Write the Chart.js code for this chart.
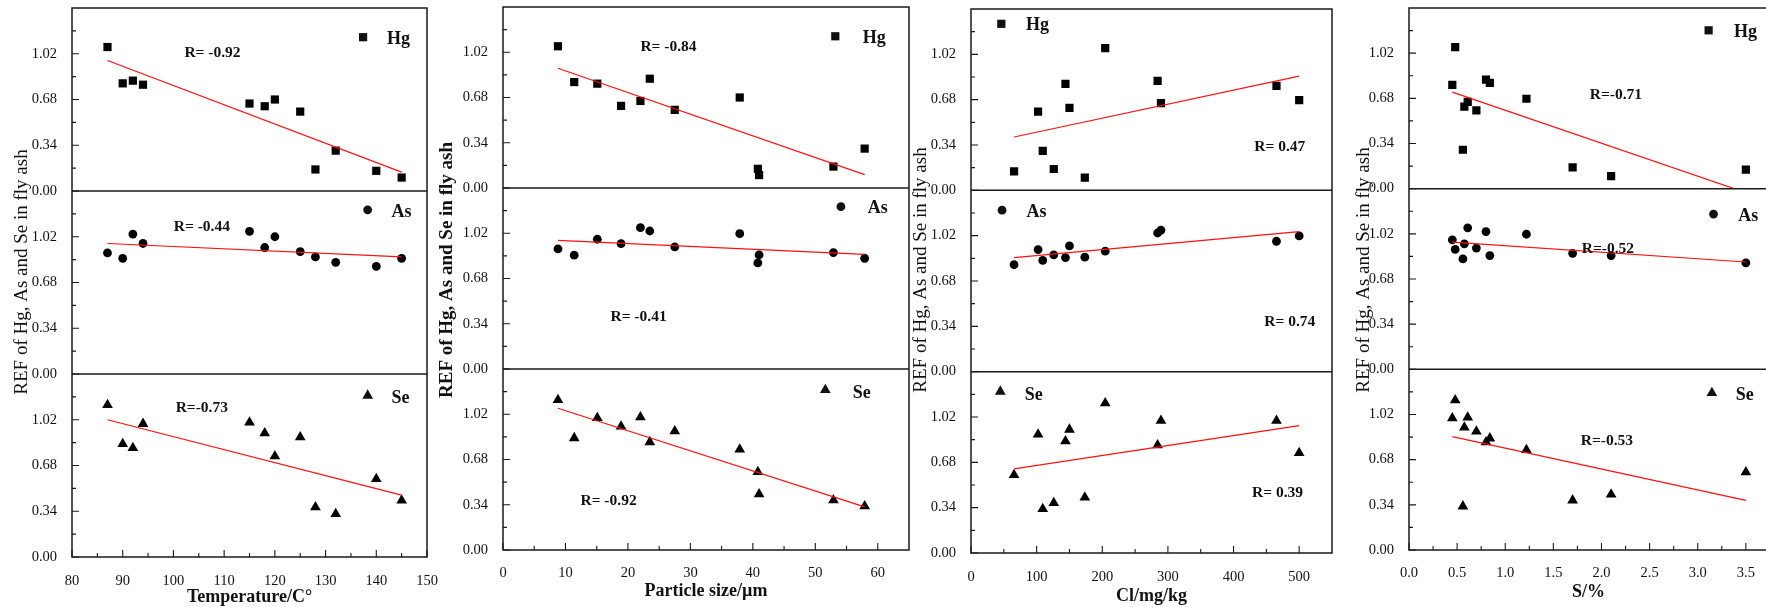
<!DOCTYPE html>
<html>
<head>
<meta charset="utf-8">
<script src="https://cdn.jsdelivr.net/npm/chart.js@4.4.1/dist/chart.umd.min.js"></script>
<style>
  html, body { margin: 0; padding: 0; background: #fff; width: 1766px; height: 607px; overflow: hidden; position: relative; }
  canvas { position: absolute; top: 0; }
</style>
</head>
<body>
<canvas id="p1"></canvas>
<canvas id="p2"></canvas>
<canvas id="p3"></canvas>
<canvas id="p4"></canvas>
<script>
// REF of Hg / As / Se in fly ash against temperature, particle size, Cl and S

// shared y ticks of every sub-plot
const Y_TICKS = [0, 0.34, 0.68, 1.02];
const Y_MINOR = [0.17, 0.51, 0.85, 1.19];

// temperature panel
const TEMP_TICKS = [80, 90, 100, 110, 120, 130, 140, 150];
const TEMP_X = [87, 90, 92, 94, 115, 118, 120, 125, 128, 132, 140, 145];
const TEMP_HG = [1.07, 0.80, 0.82, 0.79, 0.65, 0.63, 0.68, 0.59, 0.16, 0.30, 0.15, 0.10];
const TEMP_AS = [0.90, 0.86, 1.04, 0.97, 1.06, 0.94, 1.02, 0.91, 0.87, 0.83, 0.80, 0.86];
const TEMP_SE = [1.13, 0.84, 0.81, 0.99, 1.00, 0.92, 0.75, 0.89, 0.37, 0.32, 0.58, 0.42];
const TEMP_FIT_X = [87, 145];
const TEMP_FIT_HG = [0.97, 0.14];
const TEMP_FIT_AS = [0.97, 0.87];
const TEMP_FIT_SE = [1.02, 0.46];

// particle size panel
const SIZE_TICKS = [0, 10, 20, 30, 40, 50, 60];
const SIZE_X = [8.8, 11.4, 15.1, 18.9, 22.0, 23.5, 27.5, 37.9, 40.8, 41.0, 52.9, 57.9];
const SIZE_HG = [1.065, 0.796, 0.784, 0.617, 0.654, 0.821, 0.587, 0.680, 0.144, 0.097, 0.161, 0.296];
const SIZE_AS = [0.902, 0.855, 0.975, 0.942, 1.062, 1.037, 0.917, 1.017, 0.797, 0.857, 0.875, 0.832];
const SIZE_SE = [1.128, 0.841, 0.993, 0.928, 0.998, 0.811, 0.893, 0.756, 0.586, 0.419, 0.374, 0.329];
const SIZE_FIT_X = [8.8, 57.9];
const SIZE_FIT_HG = [0.90, 0.10];
const SIZE_FIT_AS = [0.967, 0.862];
const SIZE_FIT_SE = [1.065, 0.324];

// chlorine panel
const CL_TICKS = [0, 100, 200, 300, 400, 500];
const CL_X = [65.6, 102.2, 109.3, 126.1, 143.9, 150, 173.4, 204.5, 284.3, 289.4, 465.4, 500];
const CL_HG = [0.142, 0.590, 0.296, 0.160, 0.799, 0.619, 0.095, 1.067, 0.821, 0.654, 0.784, 0.677];
const CL_AS = [0.802, 0.916, 0.834, 0.876, 0.856, 0.943, 0.859, 0.904, 1.040, 1.062, 0.978, 1.018];
const CL_SE = [0.586, 0.889, 0.331, 0.375, 0.839, 0.926, 0.417, 1.124, 0.809, 0.993, 0.993, 0.750];
const CL_FIT_X = [65.6, 500];
const CL_FIT_HG = [0.40, 0.856];
const CL_FIT_AS = [0.856, 1.05];
const CL_FIT_SE = [0.631, 0.956];

// sulfur panel
const S_TICKS = [0, 0.5, 1.0, 1.5, 2.0, 2.5, 3.0, 3.5];
const S_X = [0.45, 0.48, 0.56, 0.575, 0.61, 0.70, 0.80, 0.84, 1.22, 1.70, 2.10, 3.50];
const S_HG = [0.781, 1.065, 0.293, 0.617, 0.654, 0.590, 0.821, 0.796, 0.677, 0.161, 0.094, 0.144];
const S_AS = [0.975, 0.903, 0.831, 0.945, 1.065, 0.913, 1.037, 0.856, 1.017, 0.873, 0.856, 0.801];
const S_SE = [0.993, 1.128, 0.329, 0.923, 0.998, 0.893, 0.811, 0.841, 0.754, 0.374, 0.419, 0.586];
const S_FIT_X = [0.45, 3.5];
const S_FIT_HG = [0.727, -0.03];
const S_FIT_AS = [0.958, 0.808];
const S_FIT_SE = [0.853, 0.374];

const FONT = "'Liberation Serif', 'Times New Roman', serif";
const INK = "#111";
const RED = "#ff1010";
const AXIS_W = 72;
const PAD_R = 24;
const CANVAS_H = 620;
const Y_TITLE = "REF of Hg, As and Se in fly ash";

const PANELS = [
  {
    id: "p1", left: 72, right: 427, top: 8, bottom: 557,
    xMin: 80, xMax: 150, xTicks: TEMP_TICKS, digits: 0, xTitle: "Temperature/C°", xTitlePad: 12, xTickPad: 7,
    yTitleX: 22, yTitleY: 272, yBold: false,
    x: TEMP_X, hg: TEMP_HG, as: TEMP_AS, se: TEMP_SE,
    fitX: TEMP_FIT_X, fitHg: TEMP_FIT_HG, fitAs: TEMP_FIT_AS, fitSe: TEMP_FIT_SE,
    notes: [["yHg", 107.7, 1.025, "R= -0.92"], ["yAs", 105.6, 1.089, "R= -0.44"], ["ySe", 105.6, 1.106, "R=-0.73"]],
    keys: [["yHg", 137.4, 1.143, 142.1, 1.138], ["yAs", 138.3, 1.22, 143.0, 1.207], ["ySe", 138.3, 1.2, 143.0, 1.183]],
  },
  {
    id: "p2", left: 503, right: 909, top: 7, bottom: 550,
    xMin: 0, xMax: 65, xTicks: SIZE_TICKS, digits: 0, xTitle: "Particle size/µm", xTitlePad: 18, xTickPad: 6,
    yTitleX: 447, yTitleY: 270, yBold: true,
    x: SIZE_X, hg: SIZE_HG, as: SIZE_AS, se: SIZE_SE,
    fitX: SIZE_FIT_X, fitHg: SIZE_FIT_HG, fitAs: SIZE_FIT_AS, fitSe: SIZE_FIT_SE,
    notes: [["yHg", 26.5, 1.057, "R= -0.84"], ["yAs", 21.7, 0.387, "R= -0.41"], ["ySe", 16.9, 0.369, "R= -0.92"]],
    keys: [["yHg", 53.2, 1.14, 57.6, 1.132], ["yAs", 54.1, 1.22, 58.4, 1.212], ["ySe", 51.6, 1.203, 56.0, 1.185]],
  },
  {
    id: "p3", left: 971, right: 1332, top: 9, bottom: 553,
    xMin: 0, xMax: 550, xTicks: CL_TICKS, digits: 0, xTitle: "Cl/mg/kg", xTitlePad: 13, xTickPad: 7,
    yTitleX: 921, yTitleY: 270, yBold: false,
    x: CL_X, hg: CL_HG, as: CL_AS, se: CL_SE,
    fitX: CL_FIT_X, fitHg: CL_FIT_HG, fitAs: CL_FIT_AS, fitSe: CL_FIT_SE,
    notes: [["yHg", 470.5, 0.324, "R= 0.47"], ["yAs", 485.7, 0.372, "R= 0.74"], ["ySe", 467, 0.447, "R= 0.39"]],
    keys: [["yHg", 46.2, 1.249, 83.9, 1.244], ["yAs", 47.3, 1.211, 84.4, 1.204], ["ySe", 44.7, 1.211, 81.8, 1.191]],
  },
  {
    id: "p4", left: 1409, right: 1768, top: 8, bottom: 550,
    xMin: 0, xMax: 3.73, xTicks: S_TICKS, digits: 1, xTitle: "S/%", xTitlePad: 17, xTickPad: 6,
    yTitleX: 1364, yTitleY: 270, yBold: false,
    x: S_X, hg: S_HG, as: S_AS, se: S_SE,
    fitX: S_FIT_X, fitHg: S_FIT_HG, fitAs: S_FIT_AS, fitSe: S_FIT_SE,
    notes: [["yHg", 2.15, 0.704, "R=-0.71"], ["yAs", 2.067, 0.908, "R=-0.52"], ["ySe", 2.056, 0.818, "R=-0.53"]],
    keys: [["yHg", 3.113, 1.192, 3.378, 1.187], ["yAs", 3.164, 1.169, 3.42, 1.157], ["ySe", 3.147, 1.183, 3.396, 1.173]],
  },
];

const STYLE = { yHg: ["rect", 5.8], yAs: ["circle", 4.4], ySe: ["triangle", 6.2] };
const LABEL = { yHg: "Hg", yAs: "As", ySe: "Se" };

function marker(ctx, style, r, x, y) {
  ctx.beginPath();
  if (style === "rect") {
    const s = r * Math.SQRT1_2;
    ctx.rect(x - s, y - s, 2 * s, 2 * s);
  } else if (style === "circle") {
    ctx.arc(x, y, r, 0, Math.PI * 2);
  } else {
    ctx.moveTo(x, y - r);
    ctx.lineTo(x + r * Math.sin(2 * Math.PI / 3), y + r / 2);
    ctx.lineTo(x - r * Math.sin(2 * Math.PI / 3), y + r / 2);
    ctx.closePath();
  }
  ctx.fill();
}

function framePlugin(p) {
  return {
    id: "frame" + p.id,
    afterDatasetsDraw(chart) {
      const { ctx, chartArea: a, scales } = chart;
      const xs = scales.x;
      ctx.save();
      ctx.strokeStyle = "#1a1a1a";
      ctx.lineWidth = 1.5;
      ctx.strokeRect(a.left, a.top, a.right - a.left, a.bottom - a.top);
      ctx.beginPath();
      ["yAs", "ySe"].forEach((id) => {
        const y = scales[id].top;
        ctx.moveTo(a.left, y);
        ctx.lineTo(a.right, y);
      });
      ctx.stroke();

      // inward ticks
      ctx.lineWidth = 1.1;
      ctx.beginPath();
      ["yHg", "yAs", "ySe"].forEach((id) => {
        const s = scales[id];
        Y_TICKS.forEach((v) => { const y = s.getPixelForValue(v); ctx.moveTo(a.left, y); ctx.lineTo(a.left + 7, y); });
        Y_MINOR.forEach((v) => { const y = s.getPixelForValue(v); ctx.moveTo(a.left, y); ctx.lineTo(a.left + 4, y); });
      });
      const t = p.xTicks;
      const step = t[1] - t[0];
      t.forEach((v) => {
        const x = xs.getPixelForValue(v);
        ctx.moveTo(x, a.bottom); ctx.lineTo(x, a.bottom - 7);
        const m = v + step / 2;
        if (m < p.xMax) {
          const xm = xs.getPixelForValue(m);
          ctx.moveTo(xm, a.bottom); ctx.lineTo(xm, a.bottom - 4);
        }
      });
      ctx.stroke();

      // R values
      ctx.fillStyle = INK;
      ctx.font = "bold 15.5px " + FONT;
      ctx.textAlign = "center";
      ctx.textBaseline = "middle";
      p.notes.forEach(([id, x, y, text]) => {
        ctx.fillText(text, xs.getPixelForValue(x), scales[id].getPixelForValue(y));
      });

      // element keys
      ctx.font = "bold 18px " + FONT;
      ctx.textAlign = "left";
      p.keys.forEach(([id, mx, my, tx, ty]) => {
        const [style, r] = STYLE[id];
        marker(ctx, style, r, xs.getPixelForValue(mx), scales[id].getPixelForValue(my));
        ctx.fillText(LABEL[id], xs.getPixelForValue(tx), scales[id].getPixelForValue(ty) + 1);
      });

      // shared y title
      const ox = p.left - AXIS_W;
      ctx.translate(p.yTitleX - ox, p.yTitleY);
      ctx.rotate(-Math.PI / 2);
      ctx.textAlign = "center";
      ctx.font = (p.yBold ? "bold " : "") + "19px " + FONT;
      ctx.fillText(Y_TITLE, 0, 0);
      ctx.restore();
    },
  };
}

function makePanel(p) {
  const cv = document.getElementById(p.id);
  const W = (p.right - p.left) + AXIS_W + PAD_R;
  cv.width = W;
  cv.height = CANVAS_H;
  cv.style.left = (p.left - AXIS_W) + "px";
  cv.style.width = W + "px";
  cv.style.height = CANVAS_H + "px";

  const pts = (xs, ys) => xs.map((x, i) => ({ x, y: ys[i] }));
  const scatter = (ys, id) => ({
    data: pts(p.x, ys),
    yAxisID: id,
    pointStyle: STYLE[id][0],
    pointRadius: STYLE[id][1],
    pointBackgroundColor: "#000",
    pointBorderWidth: 0,
    showLine: false,
  });
  const fit = (ys, id) => ({
    data: pts(p.fitX, ys),
    yAxisID: id,
    showLine: true,
    borderColor: RED,
    borderWidth: 1.2,
    pointRadius: 0,
  });
  const tickFont = { family: FONT, size: 14.5 };
  const yScale = () => ({
    type: "linear",
    position: "left",
    stack: "ref",
    stackWeight: 1,
    min: 0,
    max: 1.36,
    grid: { display: false },
    border: { display: false },
    ticks: { font: tickFont, color: INK, padding: 7, autoSkip: false, callback: (v) => v.toFixed(2) },
    afterBuildTicks: (s) => { s.ticks = Y_TICKS.map((v) => ({ value: v })); },
    afterFit: (s) => { s.width = AXIS_W; s.paddingTop = 0; s.paddingBottom = 0; },
  });

  new Chart(cv, {
    type: "scatter",
    data: {
      datasets: [
        fit(p.fitHg, "yHg"), fit(p.fitAs, "yAs"), fit(p.fitSe, "ySe"),
        scatter(p.hg, "yHg"), scatter(p.as, "yAs"), scatter(p.se, "ySe"),
      ],
    },
    options: {
      responsive: false,
      animation: false,
      devicePixelRatio: 1,
      layout: { padding: { top: p.top, right: PAD_R, bottom: 0, left: 0 } },
      plugins: { legend: { display: false }, tooltip: { enabled: false } },
      scales: {
        ySe: yScale(),
        yAs: yScale(),
        yHg: yScale(),
        x: {
          type: "linear",
          position: "bottom",
          min: p.xMin,
          max: p.xMax,
          grid: { display: false },
          border: { display: false },
          ticks: { font: tickFont, color: INK, padding: p.xTickPad, autoSkip: false, maxRotation: 0, callback: (v) => v.toFixed(p.digits) },
          afterBuildTicks: (s) => { s.ticks = p.xTicks.map((v) => ({ value: v })); },
          afterFit: (s) => { s.height = CANVAS_H - p.bottom; s.paddingLeft = 0; s.paddingRight = 0; },
          title: {
            display: true,
            text: p.xTitle,
            color: INK,
            font: { family: FONT, size: 18, weight: "bold" },
            padding: { top: 0, bottom: p.xTitlePad },
          },
        },
      },
    },
    plugins: [framePlugin(p)],
  });
}

PANELS.forEach(makePanel);
</script>
</body>
</html>
